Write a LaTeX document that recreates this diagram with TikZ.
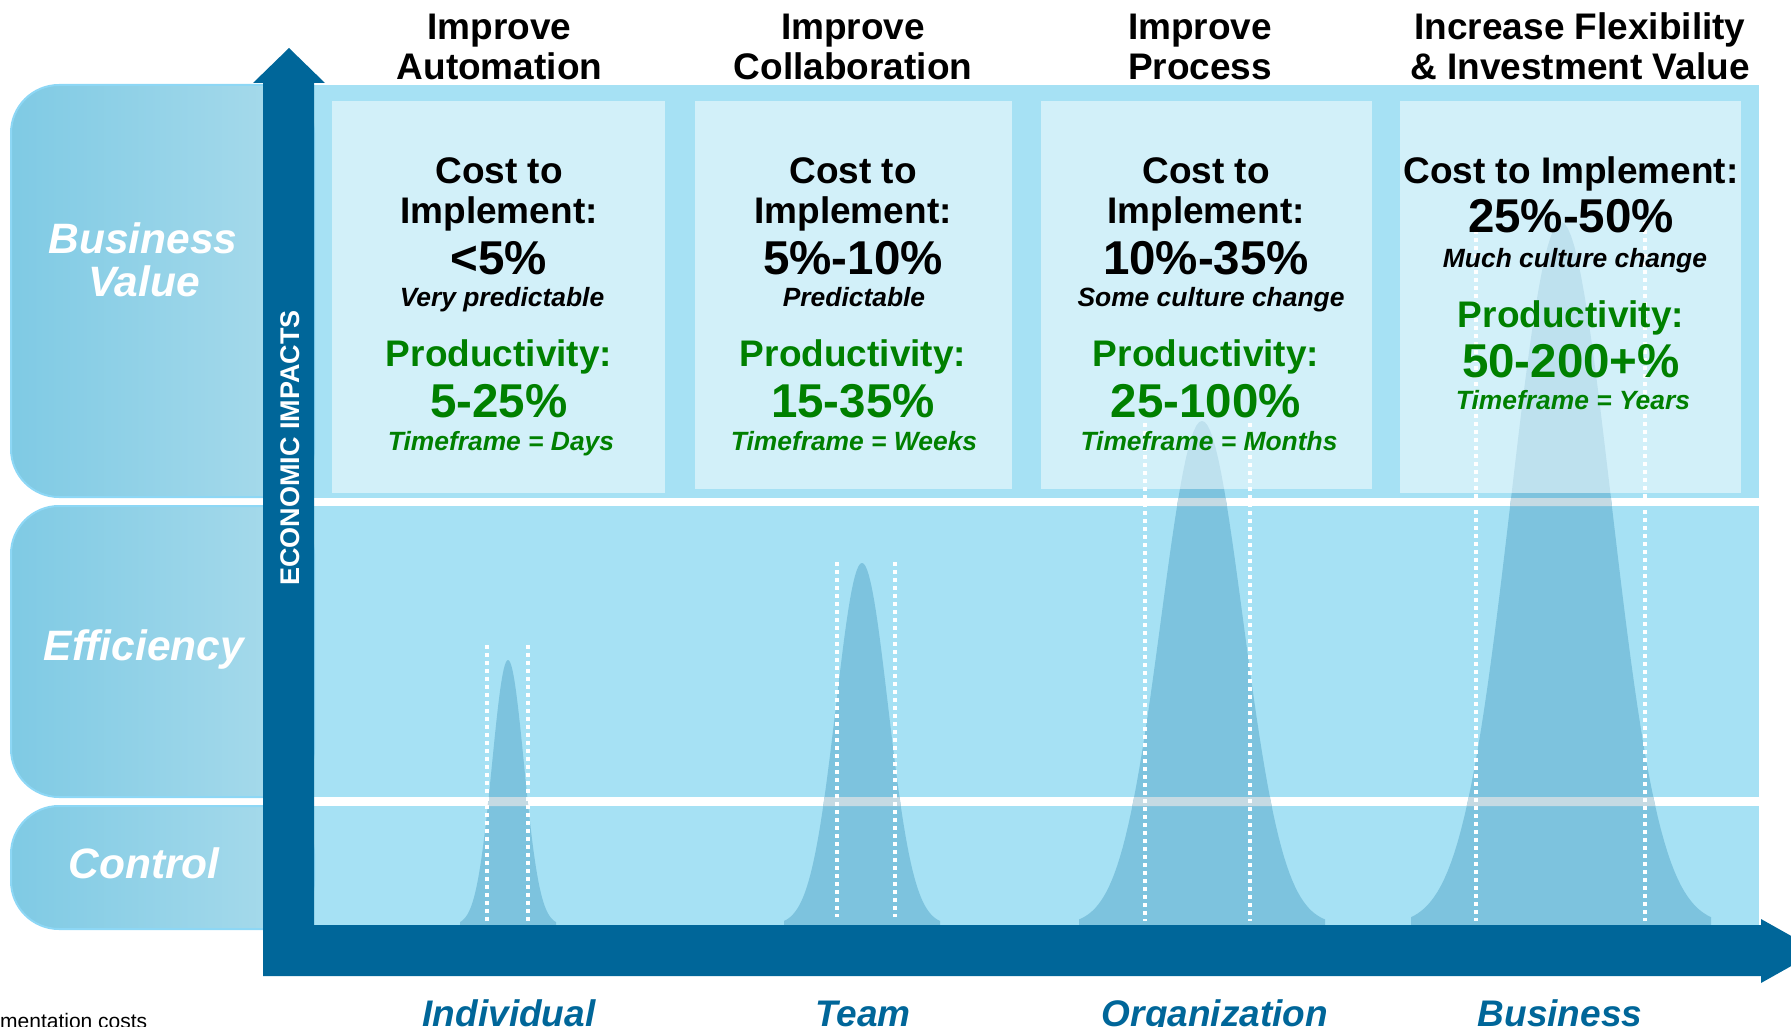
\documentclass[tikz,border=0pt]{standalone}
\usepackage{fontspec}
\setmainfont{Liberation Sans}
\definecolor{band}{HTML}{A6E1F4}
\definecolor{peakc}{HTML}{7DC3DE}
\definecolor{gapc}{HTML}{C5DAE3}
\definecolor{arrowc}{HTML}{006699}
\definecolor{greenc}{HTML}{008000}
\definecolor{pillL}{HTML}{7FCAE4}
\definecolor{pillR}{HTML}{ABDCEC}
\definecolor{pillB}{HTML}{8DD7F5}
\newcommand\peakpath[3]{plot[domain=-3:3,samples=91] ({#1+\x*#3},{925-#2*exp(-\x*\x/2)}) -- ({#1+3*#3},925) -- ({#1-3*#3},925) -- cycle}
\tikzset{
 hdr/.style={anchor=base, inner sep=0pt, font=\fontsize{37}{40}\selectfont\bfseries},
 bignum/.style={anchor=base, inner sep=0pt, font=\fontsize{47.5}{50}\selectfont\bfseries},
 note/.style={anchor=base, inner sep=0pt, font=\fontsize{26.4}{28}\selectfont\bfseries\itshape},
 grn/.style={text=greenc},
 pilltxt/.style={anchor=base, inner sep=0pt, text=white, font=\fontsize{42.5}{45}\selectfont\bfseries\itshape},
 axlab/.style={anchor=base, inner sep=0pt, text=arrowc, font=\fontsize{37}{40}\selectfont\bfseries\itshape},
 econ/.style={inner sep=0pt, text=white, rotate=90, font=\fontsize{27}{30}\selectfont\bfseries},
 dots/.style={white, line width=4pt, dash pattern=on 4pt off 4pt},
 boxfill/.style={white, fill opacity=0.5},
 pill/.style={left color=pillL, right color=pillR, draw=pillB, line width=2pt, rounded corners=48pt},
}
\begin{document}
\begin{tikzpicture}[x=1pt,y=-1pt]
\useasboundingbox (0,0) rectangle (1791,1027);
\clip (0,0) rectangle (1791,1027);
% bands
\fill[band] (314,85) rectangle (1759,498);
\fill[band] (314,506) rectangle (1759,797);
\fill[band] (314,806) rectangle (1759,925);
% peaks
\fill[peakc] \peakpath{508}{265}{16};
\fill[peakc] \peakpath{862}{362}{26};
\fill[peakc] \peakpath{1202}{504}{41};
\fill[peakc] \peakpath{1561}{703}{50};
\begin{scope}
\clip (314,498) rectangle (1759,506) (314,797) rectangle (1759,806);
\fill[gapc] \peakpath{508}{265}{16};
\fill[gapc] \peakpath{862}{362}{26};
\fill[gapc] \peakpath{1202}{504}{41};
\fill[gapc] \peakpath{1561}{703}{50};
\end{scope}
% boxes
\fill[boxfill] (332,101) rectangle (665,493);
\fill[boxfill] (695,101) rectangle (1012,489);
\fill[boxfill] (1041,101) rectangle (1372,489);
\fill[boxfill] (1400,101) rectangle (1741,493);
% dotted lines
\draw[dots] (487,645) -- (487,921);
\draw[dots] (528,645) -- (528,921);
\draw[dots] (837,562) -- (837,917);
\draw[dots] (895,562) -- (895,917);
\draw[dots] (1145,423) -- (1145,921);
\draw[dots] (1250,423) -- (1250,921);
\draw[dots] (1476,222) -- (1476,921);
\draw[dots] (1645,222) -- (1645,921);
% pills
\shadedraw[pill] (11,85) rectangle (314,497);
\shadedraw[pill] (11,506) rectangle (314,797);
\shadedraw[pill] (11,806) rectangle (314,929);
% axes arrow
\fill[arrowc] (263,976) -- (263,83) -- (253,83) -- (289,48) -- (325,83) -- (314,83) -- (314,925) -- (1761,925) -- (1761,919) -- (1818,951) -- (1761,983) -- (1761,976) -- cycle;
\node[econ] (econ) at (290,448) {ECONOMIC IMPACTS};
% pill labels
\node[pilltxt] (bv1) at (143,253) {Business};
\node[pilltxt] (bv2) at (144,296) {Value};
\node[pilltxt] (eff) at (144,660) {Efficiency};
\node[pilltxt] (ctl) at (144,878) {Control};
% headers
\node[hdr] (h1a) at (499.5,40) {Improve};
\node[hdr] (h1b) at (499.5,80) {Automation};
\node[hdr] (h2a) at (853,40) {Improve};
\node[hdr] (h2b) at (853,80) {Collaboration};
\node[hdr] (h3a) at (1200,40) {Improve};
\node[hdr] (h3b) at (1200,80) {Process};
\node[hdr] (h4a) at (1580,40) {Increase Flexibility};
\node[hdr] (h4b) at (1580,80) {\& Investment Value};
% box 1
\node[hdr] (b1a) at (499,184) {Cost to};
\node[hdr] (b1b) at (499,224) {Implement:};
\node[bignum] (b1c) at (499,274.5) {<5\%};
\node[note] (b1d) at (502,306.5) {Very predictable};
\node[hdr,grn] (b1e) at (499,366.5) {Productivity:};
\node[bignum,grn] (b1f) at (499,417) {5-25\%};
\node[note,grn] (b1g) at (501,450) {Timeframe = Days};
% box 2
\node[hdr] (b2a) at (853,184) {Cost to};
\node[hdr] (b2b) at (853,224) {Implement:};
\node[bignum] (b2c) at (853,274.5) {5\%-10\%};
\node[note] (b2d) at (854,306.5) {Predictable};
\node[hdr,grn] (b2e) at (853,366.5) {Productivity:};
\node[bignum,grn] (b2f) at (853,417) {15-35\%};
\node[note,grn] (b2g) at (854,450) {Timeframe = Weeks};
% box 3
\node[hdr] (b3a) at (1206,184) {Cost to};
\node[hdr] (b3b) at (1206,224) {Implement:};
\node[bignum] (b3c) at (1206,274.5) {10\%-35\%};
\node[note] (b3d) at (1211,306.5) {Some culture change};
\node[hdr,grn] (b3e) at (1206,366.5) {Productivity:};
\node[bignum,grn] (b3f) at (1206,417) {25-100\%};
\node[note,grn] (b3g) at (1209,450) {Timeframe = Months};
% box 4
\node[hdr] (b4a) at (1571,184) {Cost to Implement:};
\node[bignum] (b4c) at (1571,233) {25\%-50\%};
\node[note] (b4d) at (1575,267) {Much culture change};
\node[hdr,grn] (b4e) at (1571,327) {Productivity:};
\node[bignum,grn] (b4f) at (1571,377) {50-200+\%};
\node[note,grn] (b4g) at (1573,409) {Timeframe = Years};
% axis labels
\node[axlab] (xl1) at (509,1026) {Individual};
\node[axlab] (xl2) at (863,1026) {Team};
\node[axlab] (xl3) at (1215,1026) {Organization};
\node[axlab] (xl4) at (1560,1026) {Business};
\node[anchor=base west, inner sep=0pt, font=\fontsize{21}{24}\selectfont] (foot) at (0,1028) {mentation costs};
\end{tikzpicture}
\end{document}
